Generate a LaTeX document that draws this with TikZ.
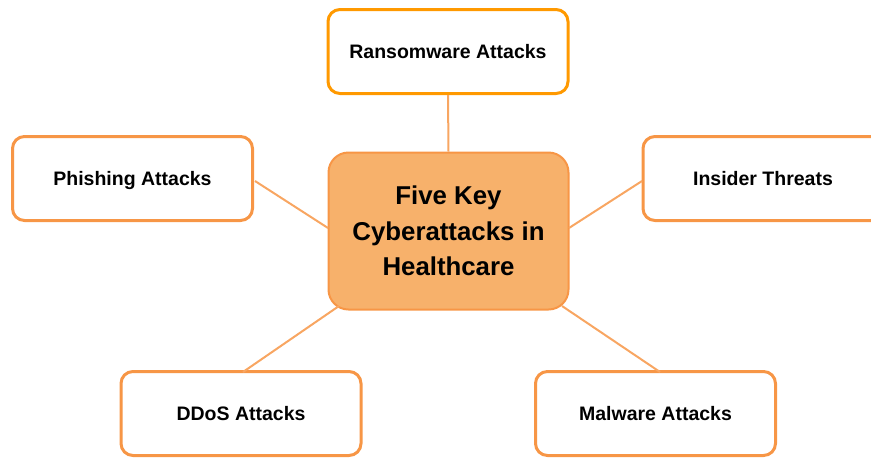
\documentclass[tikz,border=0pt]{standalone}
\usepackage{fontspec}
\setmainfont{Liberation Sans}
\definecolor{hub}{HTML}{F7B16B}
\definecolor{rim}{HTML}{F79646}
\definecolor{hot}{HTML}{FF9900}
\tikzset{
  leaf/.style={draw=rim, line width=3pt, fill=white, rounded corners=12pt,
    minimum width=240pt, minimum height=84pt, inner sep=0pt,
    text height=14pt, text depth=0pt,
    font=\fontsize{19.5}{23}\selectfont\bfseries},
  hubbox/.style={draw=rim, line width=2pt, fill=hub, rounded corners=20pt,
    minimum width=240pt, minimum height=157pt, inner sep=0pt, align=center,
    font=\fontsize{25.8}{35.5}\selectfont\bfseries},
  link/.style={draw=rim!85!white, line width=2pt}
}
\begin{document}
\begin{tikzpicture}[x=1pt,y=-1pt]
  \useasboundingbox (0,0) rectangle (871,459);
  \clip (0,0) rectangle (871,459);
  % central topic
  \node[hubbox] (hub) at (448.5,231) {Five Key\\Cyberattacks in\\Healthcare};
  % the five attack types
  \node[leaf, draw=hot] (ransom) at (448,51.5) {Ransomware Attacks};
  \node[leaf] (phish) at (132.5,178.5) {Phishing Attacks};
  \node[leaf] (insider) at (763,178.5) {Insider Threats};
  \node[leaf] (ddos) at (241,413.5) {DDoS Attacks};
  \node[leaf] (malware) at (655.5,413.5) {Malware Attacks};
  % spoke end points on the box outlines
  \coordinate (hubL) at (328,228);
  \coordinate (hubR) at (569,228);
  \coordinate (hubBL) at (339,306);
  \coordinate (hubBR) at (562,306);
  \coordinate (phishR) at (255,181);
  \coordinate (insiderL) at (642,181);
  \coordinate (ddosT) at (243,372);
  \coordinate (malwareT) at (660,372);
  % spokes
  \draw[link] (ransom.south) -- (hub.north);
  \draw[link] (phishR) -- (hubL);
  \draw[link] (insiderL) -- (hubR);
  \draw[link] (ddosT) -- (hubBL);
  \draw[link] (malwareT) -- (hubBR);
\end{tikzpicture}
\end{document}
